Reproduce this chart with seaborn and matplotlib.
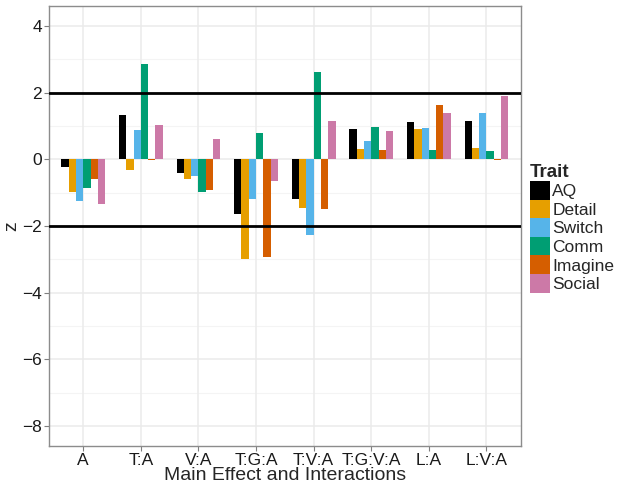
import matplotlib
matplotlib.use("Agg")
import matplotlib.pyplot as plt
import pandas as pd
import seaborn as sns

# effects on the x axis and traits in the legend
effects = ["A", "T:A", "V:A", "T:G:A", "T:V:A", "T:G:V:A", "L:A", "L:V:A"]
traits = ["AQ", "Detail", "Switch", "Comm", "Imagine", "Social"]

# z values, one list per trait, in the order of effects
aq = [-0.24, 1.34, -0.40, -1.65, -1.20, 0.92, 1.13, 1.16]
detail = [-0.99, -0.33, -0.60, -2.99, -1.47, 0.32, 0.92, 0.35]
switch = [-1.24, 0.89, -0.51, -1.20, -2.28, 0.56, 0.95, 1.40]
comm = [-0.87, 2.86, -0.99, 0.80, 2.62, 0.98, 0.29, 0.26]
imagine = [-0.58, -0.02, -0.93, -2.93, -1.50, 0.29, 1.64, -0.02]
social = [-1.35, 1.04, 0.62, -0.66, 1.16, 0.86, 1.40, 1.91]

palette = ["#000000", "#E69F00", "#56B4E9", "#009E73", "#D55E00", "#CC79A7"]
y_ticks = [4, 2, 0, -2, -4, -6, -8]

rows = []
for trait, vals in zip(traits, [aq, detail, switch, comm, imagine, social]):
    for eff, v in zip(effects, vals):
        rows.append({"effect": eff, "Trait": trait, "z": v})
df = pd.DataFrame(rows)

sns.set_style("white")
plt.rcParams["font.family"] = ["Liberation Sans", "DejaVu Sans"]

fig = plt.figure(figsize=(6.17, 4.86), dpi=100)
ax = fig.add_axes([48.7 / 617, 40 / 486, (521 - 48.7) / 617, (446 - 6) / 486])

# grid behind the bars
ax.set_axisbelow(True)
for v in [3, 1, -1, -3, -5, -7]:
    ax.axhline(v, color="#f4f4f4", lw=0.8, zorder=0)
for v in y_ticks:
    ax.axhline(v, color="#ebebeb", lw=1.1, zorder=0)
for i in range(len(effects)):
    ax.axvline(i, color="#ebebeb", lw=1.1, zorder=0)

sns.barplot(data=df, x="effect", y="z", hue="Trait", order=effects, hue_order=traits,
            palette=palette, width=0.76, saturation=1, errorbar=None, ax=ax, zorder=2,
            linewidth=0, edgecolor="none")

ax.axhline(2, color="black", lw=2, zorder=3)
ax.axhline(-2, color="black", lw=2, zorder=3)

ax.set_xlim(-0.6, len(effects) - 0.4)
ax.set_ylim(-8.6, 4.6)
ax.set_yticks(y_ticks)
ax.set_yticklabels([str(t).replace("-", "\u2212") for t in y_ticks])
ax.tick_params(axis="both", length=3.5, width=0.8, color="#7f7f7f", labelsize=12.5,
               labelcolor="#1a1a1a", pad=1.5, direction="out", bottom=True, left=True)
for s in ax.spines.values():
    s.set_color("#8c8c8c")
    s.set_linewidth(1.0)

ax.set_xlabel("Main Effect and Interactions", fontsize=14, labelpad=-1)
ax.set_ylabel("z", fontsize=14, labelpad=1)

handles, labels = ax.get_legend_handles_labels()
leg = ax.legend(handles, labels, title="Trait", loc="upper left", frameon=False,
                bbox_to_anchor=(518 / 617, 1 - 152 / 486), bbox_transform=fig.transFigure,
                fontsize=12.5, handlelength=1.15, handleheight=1.27, handletextpad=0.12,
                labelspacing=0.0, borderpad=0.2)
leg.get_title().set_fontweight("bold")
leg.get_title().set_fontsize(13.5)
leg._legend_box.align = "left"

fig.savefig("out.png", dpi=100)
